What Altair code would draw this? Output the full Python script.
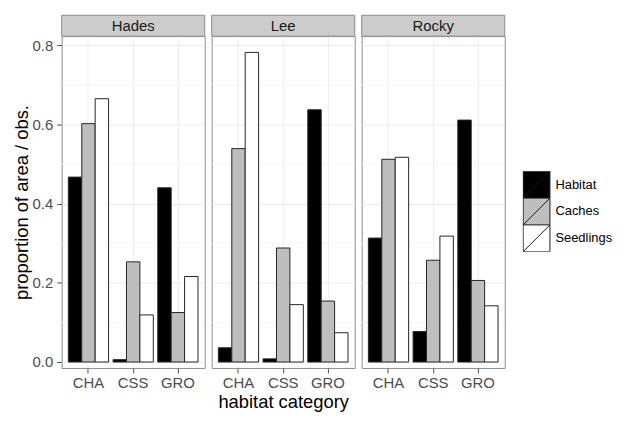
import altair as alt
import pandas as pd

sites = ["Hades", "Lee", "Rocky"]
categories = ["CHA", "CSS", "GRO"]
series = ["Habitat", "Caches", "Seedlings"]
series_colors = ["#000000", "#bebebe", "#ffffff"]

hades_habitat = [0.467, 0.006, 0.440]
hades_caches = [0.602, 0.253, 0.125]
hades_seedlings = [0.665, 0.119, 0.216]
lee_habitat = [0.036, 0.008, 0.637]
lee_caches = [0.539, 0.288, 0.154]
lee_seedlings = [0.782, 0.145, 0.074]
rocky_habitat = [0.313, 0.077, 0.611]
rocky_caches = [0.512, 0.257, 0.206]
rocky_seedlings = [0.517, 0.318, 0.142]

major_breaks = [0.0, 0.2, 0.4, 0.6, 0.8]
minor_breaks = [0.1, 0.3, 0.5, 0.7]

site_values = {
    "Hades": (hades_habitat, hades_caches, hades_seedlings),
    "Lee": (lee_habitat, lee_caches, lee_seedlings),
    "Rocky": (rocky_habitat, rocky_caches, rocky_seedlings),
}

W, H = 144, 334
FONT = "Liberation Sans"
yscale = alt.Scale(domain=[-0.015, 0.823], nice=False, zero=False)
KEY_SHAPE = "M-1,-1H1V1H-1Z M-1,1L1,-1"


def y_axis(first):
    if first:
        return alt.Axis(values=major_breaks, format=".1f", title="proportion of area / obs.",
                        titleFontSize=18.5, titleFontWeight="normal", titleColor="#000000",
                        titlePadding=1, labelFontSize=15, labelColor="#4d4d4d",
                        labelPadding=4, tickSize=5, tickColor="#4d4d4d", domain=False,
                        grid=True, gridColor="#ebebeb")
    return alt.Axis(values=major_breaks, labels=False, ticks=False, title=None, domain=False,
                    grid=True, gridColor="#ebebeb")


def panel(i, site):
    hab, cac, see = site_values[site]
    df = pd.DataFrame({
        "category": categories * 3,
        "series": [s for s in series for _ in categories],
        "value": list(hab) + list(cac) + list(see),
    })
    minor_df = pd.DataFrame({"value": minor_breaks})
    strip_df = pd.DataFrame({"site": [site]})

    xaxis = alt.Axis(labelAngle=0, labelFontSize=15, labelColor="#4d4d4d", labelPadding=3,
                     tickSize=5, tickColor="#4d4d4d", domain=False, grid=True,
                     gridColor="#ebebeb", bandPosition=0.5,
                     title="habitat category" if i == 1 else None,
                     titleFontSize=18.5, titleFontWeight="normal", titleColor="#000000",
                     titlePadding=2)

    minor = alt.Chart(minor_df).mark_rule(color="#f5f5f5", strokeWidth=1).encode(
        y=alt.Y("value:Q", scale=yscale, axis=y_axis(i == 0))
    )

    legend = alt.Legend(title=None, symbolType=KEY_SHAPE, symbolSize=729,
                        symbolStrokeColor="#1a1a1a", symbolStrokeWidth=1,
                        symbolOpacity=1, labelFontSize=13, labelColor="#000000",
                        rowPadding=0, clipHeight=27, labelOffset=5, orient="none",
                        legendX=464, legendY=136)

    bars = alt.Chart(df).mark_bar(stroke="#262626", strokeWidth=1, opacity=1).encode(
        x=alt.X("category:N", scale=alt.Scale(domain=categories, paddingInner=0.1,
                                               paddingOuter=0.15), axis=xaxis),
        xOffset=alt.XOffset("series:N", scale=alt.Scale(domain=series, paddingInner=0,
                                                         paddingOuter=0)),
        y=alt.Y("value:Q", scale=yscale, axis=y_axis(i == 0)),
        y2=alt.datum(0),
        fill=alt.Fill("series:N", scale=alt.Scale(domain=series, range=series_colors),
                      legend=legend if i == 0 else None),
    )

    strip = alt.Chart(strip_df).mark_rect(fill="#cccccc", stroke="#8c8c8c", strokeWidth=1).encode(
        x=alt.value(0), x2=alt.value(W), y=alt.value(-21), y2=alt.value(0)
    )
    strip_text = alt.Chart(strip_df).mark_text(fontSize=15, color="#1a1a1a", baseline="middle",
                                               align="center", font=FONT).encode(
        x=alt.value(W / 2), y=alt.value(-10.5), text="site:N"
    )
    return alt.layer(minor, bars, strip, strip_text).properties(width=W, height=H)


chart = alt.hconcat(*[panel(i, s) for i, s in enumerate(sites)], spacing=5).resolve_scale(
    fill="shared"
).configure(
    font=FONT, padding={"left": 3, "top": 5, "right": 5, "bottom": 0}
).configure_view(
    stroke="#8c8c8c", strokeWidth=1
).configure_axis(
    labelFont=FONT, titleFont=FONT
).configure_legend(
    labelFont=FONT, rowPadding=0
)

chart.save("out.html", embed_options={"renderer": "svg", "actions": False})
